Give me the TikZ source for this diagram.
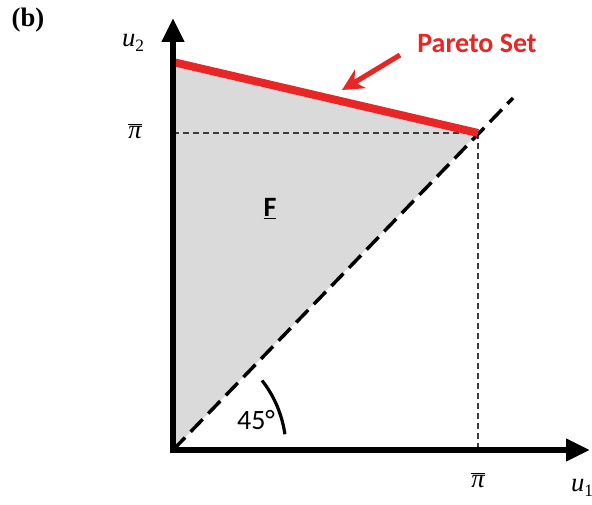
\documentclass[tikz,border=0pt]{standalone}
\usepackage{fontspec}
\setmainfont{Liberation Serif}
\newfontfamily\calib{Carlito}
\usetikzlibrary{arrows.meta}
\definecolor{paretored}{RGB}{232,38,38}
\definecolor{regiongray}{RGB}{218,218,218}
\definecolor{dashgray}{RGB}{60,60,60}
\tikzset{
  axisline/.style={line width=5.2pt, black, -{Triangle[length=18pt,width=16pt]}},
  paretoline/.style={line width=6pt, paretored},
  diagline/.style={line width=2.6pt, black, dash pattern=on 13pt off 6pt},
  guideline/.style={line width=0.9pt, dashgray, dash pattern=on 4.5pt off 3pt},
  mathlabel/.style={font=\fontsize{20}{22}\selectfont\itshape, inner sep=1pt},
  calibtext/.style={font=\calib\fontsize{21}{24}\selectfont, inner sep=1pt}
}
\begin{document}
\begin{tikzpicture}[x=0.75pt,y=0.75pt]
\useasboundingbox (0,0) rectangle (592,504);
\coordinate (O) at (173,54);
\coordinate (P0) at (173,442);
\coordinate (Q) at (478,371);
\coordinate (D) at (513,406);
\coordinate (Ytip) at (173,486);
\coordinate (Xtip) at (590,54);
\coordinate (Yleft) at (173,371);
\coordinate (Xbot) at (478,54);
% region
\fill[regiongray] (O) -- (P0) -- (Q) -- cycle;
% guide lines
\draw[guideline] (Yleft) -- (Q);
\draw[guideline] (Q) -- (Xbot);
% diagonal
\draw[diagline] (O) -- (D);
% pareto set
\draw[paretoline] (P0) -- (Q);
% axes
\draw[axisline] (173,51) -- (Ytip);
\draw[axisline] (169.5,54) -- (Xtip);
% angle arc
\draw[line width=2.4pt] ([shift={(8:113)}]O) arc[start angle=8, end angle=38, radius=113];
% labels
\node[font=\fontsize{20}{22}\selectfont\bfseries] (b) at (28,484) {(b)};
\node[mathlabel] (u2) at (133,461) {u\raisebox{-0.45ex}{\upshape\fontsize{13}{14}\selectfont 2}};
\node[mathlabel] (u1) at (582,16) {u\raisebox{-0.45ex}{\upshape\fontsize{13}{14}\selectfont 1}};
\node[mathlabel] (pil) at (135,373) {$\overline{\mbox{\itshape π}}$};
\node[mathlabel] (pib) at (478,24) {$\overline{\mbox{\itshape π}}$};
\node[calibtext, font=\calib\bfseries\fontsize{21}{24}\selectfont, text=paretored] (ps) at (477,461) {Pareto Set};
\node[calibtext, font=\calib\bfseries\fontsize{21}{24}\selectfont] (F) at (270,295) {\underline{F}};
\node[calibtext] (ang) at (256,84) {45°};
\coordinate (arrs) at (400,449);
\coordinate (arre) at (342,414);
\draw[paretored, line width=3.8pt, -{Stealth[length=16pt,width=16pt,inset=5pt]}] (arrs) -- (arre);
\end{tikzpicture}
\end{document}
